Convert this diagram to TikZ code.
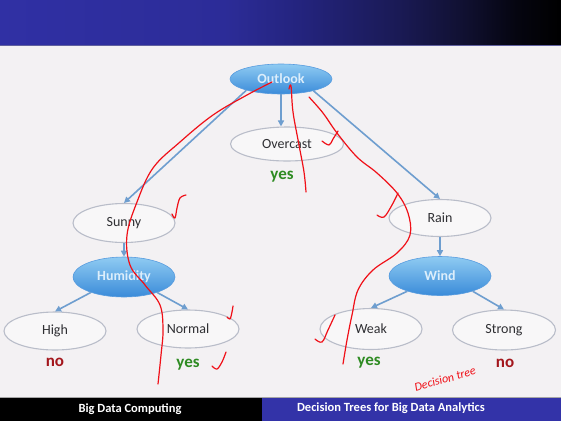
\documentclass[tikz,border=0pt]{standalone}
\usepackage{fontspec}
\setmainfont{Carlito}
\usetikzlibrary{shapes.geometric,arrows.meta}

\definecolor{pagebg}{HTML}{F3F1F3}
\definecolor{footblue}{HTML}{3333A8}
\definecolor{edgegray}{HTML}{B9BDC9}
\definecolor{arrowblue}{HTML}{6E9ECF}
\definecolor{balltop}{HTML}{8FCBF2}
\definecolor{ballbot}{HTML}{3A8BD9}
\definecolor{balltext}{HTML}{DCEEFB}
\definecolor{leafgreen}{HTML}{2E8B22}
\definecolor{leafred}{HTML}{A3161C}
\definecolor{inkred}{HTML}{F01018}
\definecolor{labelgray}{HTML}{2F2F33}

% title band: blue on the left, fading to black on the right
\pgfdeclarehorizontalshading{titleband}{100bp}{
  rgb(0bp)=(0.188,0.188,0.643);
  rgb(25bp)=(0.188,0.188,0.643);
  rgb(45bp)=(0.173,0.173,0.596);
  rgb(51.5bp)=(0.141,0.141,0.498);
  rgb(60.5bp)=(0.102,0.102,0.333);
  rgb(66.5bp)=(0.063,0.063,0.188);
  rgb(71bp)=(0.02,0.02,0.063);
  rgb(75bp)=(0,0,0);
  rgb(100bp)=(0,0,0)}

\tikzset{
  plainbox/.style={ellipse, draw=edgegray, line width=1.1pt, fill=pagebg!60!white,
    inner sep=0pt, minimum width=102pt, minimum height=38pt,
    text=labelgray, font=\fontsize{14}{16}\selectfont},
  testbox/.style={ellipse, draw=ballbot!85!white, line width=0.6pt,
    top color=balltop, bottom color=ballbot,
    inner sep=0pt, minimum width=102pt, minimum height=39pt,
    text=balltext, font=\bfseries\fontsize{14}{16}\selectfont},
  branch/.style={draw=arrowblue, line width=1.6pt,
    -{Triangle[length=6pt,width=6pt]}},
  yesleaf/.style={text=leafgreen, font=\bfseries\fontsize{17}{19}\selectfont},
  noleaf/.style={text=leafred, font=\bfseries\fontsize{17}{19}\selectfont},
  ink/.style={draw=inkred, line width=1.2pt, line cap=round, line join=round},
  footlabel/.style={text=white, font=\bfseries\fontsize{12.5}{14}\selectfont}
}

\begin{document}
\begin{tikzpicture}[x=1pt,y=-1pt]
  \useasboundingbox (0,0) rectangle (561,421);
  \fill[pagebg] (0,0) rectangle (561,421);

  % title band
  \shade[shading=titleband] (0,0) rectangle (561,45);
  \draw[color=blue!25!gray, line width=1pt] (0,45) -- (561,45);

  % footer band
  \draw[color=gray!70, line width=1pt] (0,397) -- (561,397);
  \fill[black] (0,398) rectangle (262,421);
  \fill[footblue] (262,398) rectangle (561,421);
  \node[footlabel] (footL) at (130,409) {Big Data Computing};
  \node[footlabel] (footR) at (391,408) {Decision Trees for Big Data Analytics};

  % tree nodes
  \node[testbox, minimum height=30pt] (outlook) at (281,79) {Outlook};
  \node[plainbox, minimum width=113pt, minimum height=34pt] (overcast) at (287,144) {Overcast};
  \node[plainbox, minimum height=39pt] (sunny) at (124,223) {Sunny};
  \node[testbox, minimum height=40pt] (humidity) at (124,277) {Humidity};
  \node[plainbox] (high) at (55,331) {High};
  \node[plainbox] (normal) at (188,329) {Normal};
  \node[plainbox, minimum height=37pt] (rain) at (440,218) {Rain};
  \node[testbox] (wind) at (440,276) {Wind};
  \node[plainbox, minimum height=41pt] (weak) at (371,329) {Weak};
  \node[plainbox, minimum width=103pt, minimum height=40pt] (strong) at (504,330) {Strong};

  % leaf decisions
  \node[yesleaf] (yesO) at (282,177) {yes};
  \node[noleaf]  (noH)  at (55,362)  {no};
  \node[yesleaf] (yesN) at (188,365) {yes};
  \node[yesleaf] (yesW) at (369,363) {yes};
  \node[noleaf]  (noS)  at (505,363) {no};

  % branches
  \draw[branch] (outlook.198) -- (sunny.north);
  \draw[branch] (outlook.south) -- (outlook.south |- overcast.north);
  \draw[branch] (outlook.-20) -- (rain.north);
  \draw[branch] (sunny.south) -- (humidity.north);
  \draw[branch] (humidity.205) -- (high.north);
  \draw[branch] (humidity.-25) -- (normal.north);
  \draw[branch] (rain.south) -- (wind.north);
  \draw[branch] (wind.205) -- (weak.north);
  \draw[branch] (wind.-25) -- (strong.north);

  % pen annotations
  \draw[ink] plot[smooth, tension=0.6] coordinates {(272,82) (247,95) (213,115) (180,142) (153,168) (137,202) (127,235) (130,265) (145,285) (160,305) (163,330) (161,355) (158,384)};
  \draw[ink] plot[smooth, tension=0.6] coordinates {(289,89) (291,86) (293,112) (299,145) (304,172) (306,192)};
  \draw[ink] plot[smooth, tension=0.6] coordinates {(309,97) (323,113) (337,133) (357,157) (377,173) (397,193) (408,213) (410,235) (397,253) (373,270) (358,290) (352,315) (347,340) (343,364)};
  \draw[ink] plot[smooth, tension=0.6] coordinates {(322,141) (329,145) (333,139) (338,131)};
  \draw[ink] plot[smooth, tension=0.6] coordinates {(377,215) (384,217) (392,205) (398,193)};
  \draw[ink] plot[smooth, tension=0.6] coordinates {(172,214) (175,218) (177,208) (180,198) (186,195)};
  \draw[ink] plot[smooth, tension=0.6] coordinates {(227,317) (230,319) (232,312) (233,306)};
  \draw[ink] plot[smooth, tension=0.6] coordinates {(212,366) (217,369) (222,362) (226,352)};
  \draw[ink] plot[smooth, tension=0.6] coordinates {(315,339) (322,342) (328,330) (335,315)};
  \node[text=inkred, rotate=16, font=\itshape\fontsize{12}{13}\selectfont] (note) at (445,379) {Decision tree};
\end{tikzpicture}
\end{document}
